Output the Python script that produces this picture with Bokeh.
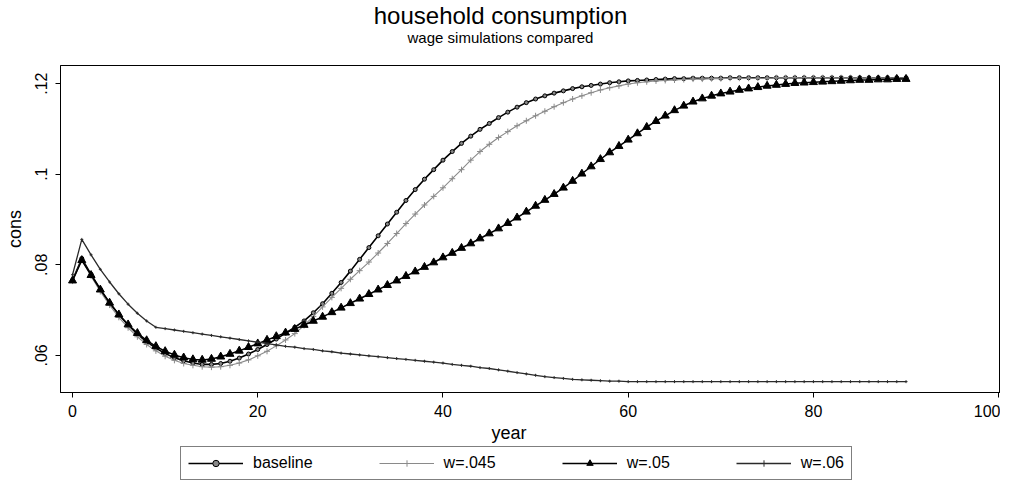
from bokeh.plotting import figure
from bokeh.layouts import column
from bokeh.models import (Range1d, FixedTicker, Legend, LegendItem, Title, Label,
                          ColumnDataSource)
from bokeh.embed import file_html
from bokeh.resources import INLINE

# ---------------- data ----------------
years = list(range(0, 91))

baseline = [
    0.0766, 0.0814, 0.0779, 0.0746, 0.0716, 0.0690, 0.0667, 0.0647, 0.0630, 0.0616,
    0.0604, 0.0595, 0.0588, 0.0583, 0.0580, 0.0580, 0.0582, 0.0587, 0.0594, 0.0603,
    0.0613, 0.0624, 0.0636, 0.0649, 0.0662, 0.0676, 0.0694, 0.0714, 0.0737, 0.0761,
    0.0786, 0.0812, 0.0838, 0.0864, 0.0890, 0.0916, 0.0942, 0.0966, 0.0989, 0.1010,
    0.1031, 0.1050, 0.1068, 0.1084, 0.1099, 0.1112, 0.1125, 0.1137, 0.1148, 0.1158,
    0.1166, 0.1173, 0.1179, 0.1184, 0.1189, 0.1193, 0.1196, 0.1199, 0.1202, 0.1204,
    0.1206, 0.1207, 0.1208, 0.1209, 0.1210, 0.1211, 0.1211, 0.1212, 0.1212, 0.1212,
    0.1212, 0.1213, 0.1213, 0.1213, 0.1213, 0.1213, 0.1213, 0.1213, 0.1213, 0.1213,
    0.1213, 0.1213, 0.1213, 0.1213, 0.1213, 0.1213, 0.1213, 0.1213, 0.1213, 0.1213,
    0.1213,
]

w045 = [
    0.0764, 0.0811, 0.0775, 0.0741, 0.0711, 0.0684, 0.0661, 0.0641, 0.0624, 0.0610,
    0.0598, 0.0589, 0.0582, 0.0578, 0.0575, 0.0574, 0.0575, 0.0578, 0.0583, 0.0590,
    0.0599, 0.0609, 0.0621, 0.0634, 0.0648, 0.0666, 0.0686, 0.0707, 0.0728, 0.0748,
    0.0768, 0.0787, 0.0806, 0.0826, 0.0847, 0.0869, 0.0891, 0.0912, 0.0932, 0.0951,
    0.0970, 0.0990, 0.1010, 0.1031, 0.1050, 0.1066, 0.1081, 0.1094, 0.1107, 0.1118,
    0.1129, 0.1139, 0.1149, 0.1158, 0.1166, 0.1173, 0.1180, 0.1186, 0.1191, 0.1195,
    0.1199, 0.1202, 0.1204, 0.1206, 0.1207, 0.1208, 0.1209, 0.1210, 0.1210, 0.1211,
    0.1211, 0.1212, 0.1212, 0.1212, 0.1212, 0.1212, 0.1213, 0.1213, 0.1213, 0.1213,
    0.1213, 0.1213, 0.1213, 0.1213, 0.1213, 0.1213, 0.1213, 0.1213, 0.1213, 0.1213,
    0.1213,
]

w05 = [
    0.0765, 0.0810, 0.0777, 0.0745, 0.0716, 0.0690, 0.0668, 0.0649, 0.0633, 0.0620,
    0.0609, 0.0601, 0.0595, 0.0591, 0.0590, 0.0592, 0.0597, 0.0603, 0.0610, 0.0618,
    0.0626, 0.0634, 0.0642, 0.0650, 0.0658, 0.0667, 0.0676, 0.0685, 0.0695, 0.0705,
    0.0715, 0.0725, 0.0735, 0.0745, 0.0755, 0.0765, 0.0775, 0.0785, 0.0795, 0.0805,
    0.0816, 0.0826, 0.0837, 0.0847, 0.0858, 0.0869, 0.0880, 0.0892, 0.0904, 0.0917,
    0.0930, 0.0943, 0.0956, 0.0970, 0.0985, 0.1001, 0.1017, 0.1033, 0.1048, 0.1062,
    0.1076, 0.1090, 0.1104, 0.1117, 0.1129, 0.1141, 0.1151, 0.1160, 0.1167, 0.1173,
    0.1178, 0.1182, 0.1186, 0.1189, 0.1192, 0.1195, 0.1197, 0.1199, 0.1201, 0.1202,
    0.1203, 0.1204, 0.1205, 0.1206, 0.1207, 0.1208, 0.1208, 0.1209, 0.1209, 0.1210,
    0.1210,
]

w06 = [
    0.0778, 0.0856, 0.0822, 0.0790, 0.0762, 0.0736, 0.0713, 0.0693, 0.0676, 0.0662,
    0.0659, 0.0656, 0.0653, 0.0650, 0.0647, 0.0644, 0.0641, 0.0638, 0.0635, 0.0632,
    0.0629, 0.0626, 0.0623, 0.0620, 0.0618, 0.0615, 0.0613, 0.0610, 0.0608, 0.0605,
    0.0603, 0.0601, 0.0599, 0.0597, 0.0595, 0.0593, 0.0591, 0.0589, 0.0587, 0.0585,
    0.0583, 0.0580, 0.0578, 0.0576, 0.0573, 0.0571, 0.0568, 0.0565, 0.0562, 0.0559,
    0.0556, 0.0553, 0.0551, 0.0549, 0.0547, 0.0546, 0.0545, 0.0544, 0.0543, 0.0543,
    0.0542, 0.0542, 0.0542, 0.0542, 0.0542, 0.0542, 0.0542, 0.0542, 0.0542, 0.0542,
    0.0542, 0.0542, 0.0542, 0.0542, 0.0542, 0.0542, 0.0542, 0.0542, 0.0542, 0.0542,
    0.0542, 0.0542, 0.0542, 0.0542, 0.0542, 0.0542, 0.0542, 0.0542, 0.0542, 0.0542,
    0.0542,
]

series_cols = ["baseline", "w045", "w05", "w06"]
series_labels = ["baseline", "w=.045", "w=.05", "w=.06"]
x_ticks = [0, 20, 40, 60, 80, 100]
y_ticks = [0.06, 0.08, 0.1, 0.12]
y_tick_labels = [".06", ".08", ".1", ".12"]

title_text = "household consumption"
subtitle_text = "wage simulations compared"
x_label = "year"
y_label = "cons"

FONT = "Liberation Sans"
W = 1000
LEFT = 60          # common left border: the column aligns the three frames

src = ColumnDataSource(dict(year=years, baseline=baseline, w045=w045, w05=w05, w06=w06))

line_styles = [
    dict(line_color="black", line_width=1.6),
    dict(line_color="#8a8a8a", line_width=1.1),
    dict(line_color="black", line_width=1.5),
    dict(line_color="#2a2a2a", line_width=1.3),
]
marker_styles = [
    dict(marker="circle", size=4, fill_color="#888888", line_color="black", line_width=1),
    dict(marker="cross", size=6, fill_color="#8a8a8a", line_color="#8a8a8a", line_width=1),
    dict(marker="triangle", size=8, fill_color="black", line_color="black", line_width=1),
    dict(marker="cross", size=3, fill_color="#2a2a2a", line_color="#2a2a2a", line_width=1),
]

# ---------------- header (titles, centred on the whole graph) ----------------
hd = figure(
    width=W, height=64, x_range=Range1d(0, 1), y_range=Range1d(0, 1),
    output_backend="svg", toolbar_location=None,
    x_axis_location=None, y_axis_location=None,
    min_border_left=LEFT, min_border_right=0, min_border_top=0, min_border_bottom=0,
)
hd.outline_line_color = None
hd.grid.visible = False
hd.background_fill_color = "white"
hd.border_fill_color = "white"
hd.add_layout(Label(x=W / 2 - LEFT, y=63, x_units="screen", y_units="screen",
                    text=title_text, text_align="center", text_baseline="top",
                    text_font=FONT, text_font_size="24px", text_color="black"))
hd.add_layout(Label(x=W / 2 - LEFT, y=36, x_units="screen", y_units="screen",
                    text=subtitle_text, text_align="center", text_baseline="top",
                    text_font=FONT, text_font_size="15px", text_color="black"))

# ---------------- main figure ----------------
p = figure(
    width=W, height=382,
    x_range=Range1d(-1.3, 100.2),
    y_range=Range1d(0.0518, 0.1240),
    output_backend="svg", toolbar_location=None,
    min_border_left=LEFT, min_border_right=0, min_border_top=1, min_border_bottom=54,
)
p.background_fill_color = "white"
p.border_fill_color = "white"
p.outline_line_color = "black"
p.outline_line_width = 1
p.grid.visible = False

for col, lkw, mkw in zip(series_cols, line_styles, marker_styles):
    p.line("year", col, source=src, **lkw)
    p.scatter("year", col, source=src, **mkw)

p.xaxis.ticker = FixedTicker(ticks=x_ticks)
p.yaxis.ticker = FixedTicker(ticks=y_ticks)
p.yaxis.major_label_overrides = {t: l for t, l in zip(y_ticks, y_tick_labels)}
p.yaxis.major_label_orientation = "vertical"
for ax in (p.xaxis, p.yaxis):
    ax.axis_line_color = "black"
    ax.major_tick_line_color = "black"
    ax.major_tick_in = 0
    ax.major_tick_out = 5
    ax.minor_tick_line_color = None
    ax.major_label_text_font = FONT
    ax.major_label_text_font_size = "16px"
    ax.major_label_text_color = "black"
    ax.axis_label_text_font = FONT
    ax.axis_label_text_font_size = "18px"
    ax.axis_label_text_font_style = "normal"
    ax.axis_label_text_color = "black"
p.yaxis.axis_label = y_label
p.xaxis.major_label_standoff = 7
p.yaxis.major_label_standoff = 8
p.yaxis.axis_label_standoff = 8

p.add_layout(Title(text=x_label, align="left", text_font=FONT,
                   text_font_size="18px", text_font_style="normal",
                   text_color="black", standoff=2, offset=431), "below")

# ---------------- legend strip ----------------
lg = figure(
    width=W, height=34,
    x_range=Range1d(-20, -10), y_range=Range1d(0, 1),
    output_backend="svg", toolbar_location=None,
    x_axis_location=None, y_axis_location=None,
    min_border_left=LEFT, min_border_right=0, min_border_top=0, min_border_bottom=0,
)
lg.outline_line_color = None
lg.grid.visible = False
lg.background_fill_color = "white"
lg.border_fill_color = "white"

items = []
for col, lab, lkw, mkw in zip(series_cols, series_labels, line_styles, marker_styles):
    lr = lg.line("year", col, source=src, **lkw)
    sr = lg.scatter("year", col, source=src, **mkw)
    items.append(LegendItem(label=lab, renderers=[lr, sr]))

legend = Legend(
    items=items, orientation="horizontal", location=(120, 0),
    border_line_color="black", border_line_width=1,
    glyph_width=55, glyph_height=16, label_standoff=10, spacing=66,
    padding=7, margin=0,
    label_text_font=FONT, label_text_font_size="16px", label_text_color="black",
    background_fill_color="white",
)
lg.add_layout(legend, "center")

layout = column(hd, p, lg, spacing=0)
open("out.html", "w").write(file_html(layout, INLINE))
